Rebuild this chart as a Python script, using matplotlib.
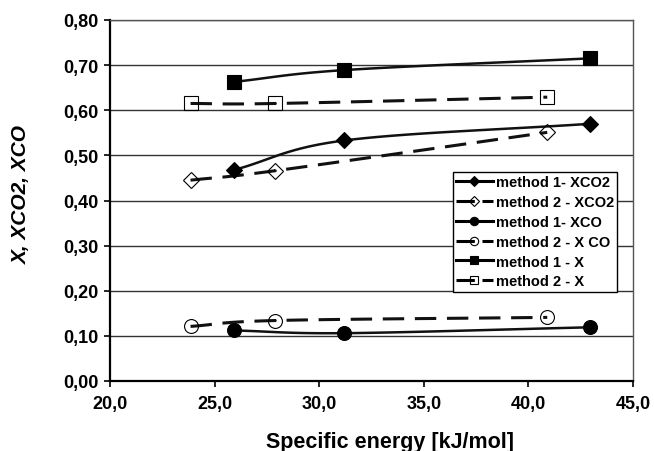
import matplotlib.pyplot as plt
import numpy as np
from matplotlib.ticker import FuncFormatter

plt.rcParams['font.family'] = ['Liberation Sans', 'DejaVu Sans']

# Data
x_m1 = [25.95, 31.2, 42.95]
x_m2 = [23.85, 27.9, 40.9]
m1_xco2 = [0.468, 0.533, 0.570]
m2_xco2 = [0.445, 0.466, 0.551]
m1_xco = [0.112, 0.106, 0.119]
m2_xco = [0.121, 0.134, 0.141]
m1_x = [0.663, 0.689, 0.715]
m2_x = [0.615, 0.615, 0.629]


def smooth(xs, ys, n=40):
    # Catmull-Rom curve through the points (like Excel's smoothed line)
    xs = np.asarray(xs, float)
    ys = np.asarray(ys, float)
    px = np.concatenate([[2 * xs[0] - xs[1]], xs, [2 * xs[-1] - xs[-2]]])
    py = np.concatenate([[2 * ys[0] - ys[1]], ys, [2 * ys[-1] - ys[-2]]])
    outx, outy = [], []
    t = np.linspace(0, 1, n)
    for i in range(1, len(px) - 2):
        for p, out in ((px, outx), (py, outy)):
            p0, p1, p2, p3 = p[i - 1], p[i], p[i + 1], p[i + 2]
            out.extend(0.5 * ((2 * p1) + (-p0 + p2) * t
                              + (2 * p0 - 5 * p1 + 4 * p2 - p3) * t ** 2
                              + (-p0 + 3 * p1 - 3 * p2 + p3) * t ** 3))
    return outx, outy


fig = plt.figure(figsize=(6.54, 4.52), dpi=100)
ax = fig.add_axes([110 / 654, 1 - 382 / 452, 523 / 654, 361 / 452])

series = [
    (x_m1, m1_xco2, 'D', 'black', '-', 'method 1- XCO2', 8),
    (x_m2, m2_xco2, 'D', 'none', '--', 'method 2 - XCO2', 8),
    (x_m1, m1_xco, 'o', 'black', '-', 'method 1- XCO', 10),
    (x_m2, m2_xco, 'o', 'none', '--', 'method 2 - X CO', 10),
    (x_m1, m1_x, 's', 'black', '-', 'method 1 - X', 10),
    (x_m2, m2_x, 's', 'none', '--', 'method 2 - X', 10),
]

handles = []
for xs, ys, mk, fc, ls, lab, ms in series:
    sx, sy = smooth(xs, ys)
    if ls == '--':
        ax.plot(sx, sy, color='#111111', lw=2.2, dashes=(7, 3.5), zorder=3)
    else:
        ax.plot(sx, sy, color='#111111', lw=1.8, zorder=3)
    ax.plot(xs, ys, ls='none', marker=mk, ms=ms, mfc=fc, mec='black',
            mew=0.8, zorder=4)
    h, = ax.plot([], [], color='black', lw=2.2, ls=ls,
                 dashes=(6, 2.5) if ls == '--' else (None, None),
                 marker=mk, ms=ms * 0.6, mfc=fc, mec='black', mew=0.8,
                 label=lab)
    handles.append(h)

ax.set_xlim(20, 45)
ax.set_ylim(0, 0.8)
ax.set_xticks(np.arange(20, 45.1, 5))
ax.set_yticks(np.arange(0, 0.81, 0.1))
ax.xaxis.set_major_formatter(FuncFormatter(lambda v, p: f'{v:.1f}'.replace('.', ',')))
ax.yaxis.set_major_formatter(FuncFormatter(lambda v, p: f'{v:.2f}'.replace('.', ',')))
ax.yaxis.grid(True, color='#333333', lw=1.0)
ax.set_axisbelow(True)
ax.tick_params(direction='out', length=4, width=1.2, labelsize=13)
ax.tick_params(axis='x', pad=6)
ax.tick_params(axis='y', pad=4)
for t in ax.get_xticklabels() + ax.get_yticklabels():
    t.set_fontweight('bold')
for side in ['left', 'bottom']:
    ax.spines[side].set_linewidth(1.6)
for side in ['top', 'right']:
    ax.spines[side].set_linewidth(1.0)
    ax.spines[side].set_color('#555555')

# axis titles placed where the reference has them
fig.text(390 / 654, 1 - 443 / 452, 'Specific energy [kJ/mol]', fontsize=15.5,
         fontweight='bold', ha='center', va='center')
fig.text(21 / 654, 1 - 194 / 452, 'X, XCO2, XCO', fontsize=15, fontweight='bold',
         style='italic', rotation=90, ha='center', va='center')

leg = ax.legend(handles=handles, loc='upper left', bbox_to_anchor=(0.655, 0.58),
                frameon=True, fancybox=False, edgecolor='black', framealpha=1,
                prop={'weight': 'bold', 'size': 10.5}, handlelength=2.5,
                handletextpad=0.2, borderpad=0.25, labelspacing=0.4,
                borderaxespad=0)
leg.get_frame().set_linewidth(1.0)

fig.savefig('out.png', dpi=100)
